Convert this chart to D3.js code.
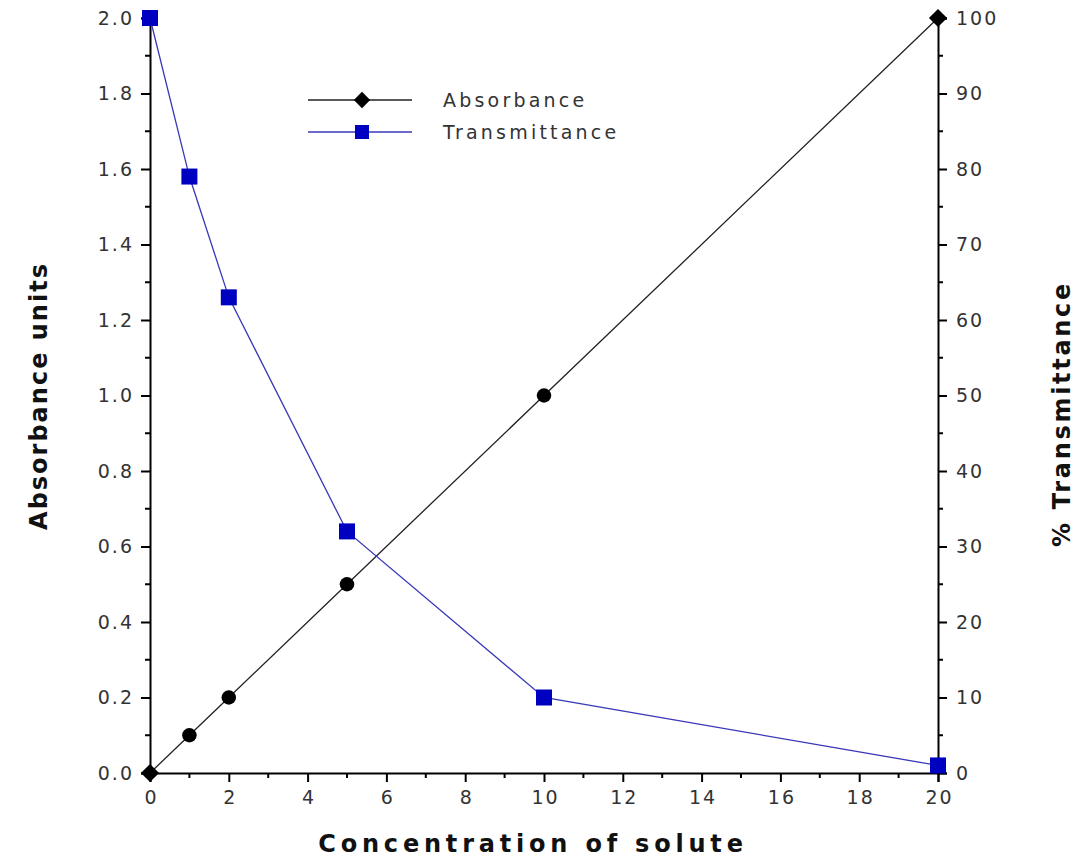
<!DOCTYPE html>
<html><head><meta charset="utf-8">
<script src="https://cdn.jsdelivr.net/npm/d3@7"></script>
<style>body{margin:0;background:#fff}</style>
</head><body>
<svg id="c" width="1083" height="859"></svg>
<script>
const concentration = [0, 1, 2, 5, 10, 20];
const absorbance = [0, 0.1, 0.2, 0.5, 1.0, 2.0];
const transmittance = [100, 79, 63, 32, 10, 1];
const xTicks = [0,2,4,6,8,10,12,14,16,18,20];
const yLeftTicks = [0,0.2,0.4,0.6,0.8,1.0,1.2,1.4,1.6,1.8,2.0];
const yRightTicks = [0,10,20,30,40,50,60,70,80,90,100];
const seriesNames = ["Absorbance", "Transmittance"];

const svg = d3.select("#c");
const x = d3.scaleLinear().domain([0,20]).range([150,938]);
const yL = d3.scaleLinear().domain([0,2]).range([773,18]);
const yR = d3.scaleLinear().domain([0,100]).range([773,18]);
const font = "'DejaVu Sans', Verdana, sans-serif";
const tickCol = "#333";

// minor ticks
const g = svg.append("g").attr("stroke","#000").attr("stroke-width",2);
d3.range(1,20,2).forEach(v=>g.append("line").attr("x1",x(v)).attr("x2",x(v)).attr("y1",773).attr("y2",778));
d3.range(0.1,2,0.2).forEach(v=>g.append("line").attr("x1",150).attr("x2",145).attr("y1",yL(v)).attr("y2",yL(v)));
d3.range(5,100,10).forEach(v=>g.append("line").attr("x1",938).attr("x2",943).attr("y1",yR(v)).attr("y2",yR(v)));

// axes
const ax = svg.append("g").attr("transform","translate(0,773)")
  .call(d3.axisBottom(x).tickValues(xTicks).tickFormat(d3.format("d")).tickSize(9).tickPadding(5));
const ayl = svg.append("g").attr("transform","translate(150,0)")
  .call(d3.axisLeft(yL).tickValues(yLeftTicks).tickFormat(d3.format(".1f")).tickSize(9).tickPadding(7));
const ayr = svg.append("g").attr("transform","translate(938,0)")
  .call(d3.axisRight(yR).tickValues(yRightTicks).tickFormat(d3.format("d")).tickSize(9).tickPadding(9));
[ax,ayl,ayr].forEach(a=>{
  a.select(".domain").attr("stroke","#000").attr("stroke-width",2);
  a.selectAll(".tick line").attr("stroke","#000").attr("stroke-width",2);
  a.selectAll(".tick text").attr("font-family",font).attr("font-size",19).attr("letter-spacing",2).attr("fill",tickCol);
});
ax.selectAll(".tick text").attr("dy","0.9em").attr("dx",1);

// lines
const lineA = d3.line().x((d,i)=>x(concentration[i])).y(d=>yL(d));
const lineT = d3.line().x((d,i)=>x(concentration[i])).y(d=>yR(d));
svg.append("path").datum(absorbance).attr("d",lineA).attr("fill","none").attr("stroke","#222").attr("stroke-width",1.3);
svg.append("path").datum(transmittance).attr("d",lineT).attr("fill","none").attr("stroke","#3838b8").attr("stroke-width",1.3);

// markers
absorbance.forEach((v,i)=>{
  const end = i===0 || i===absorbance.length-1;
  svg.append("path").attr("transform",`translate(${x(concentration[i])},${yL(v)})`)
    .attr("d",d3.symbol().type(end?d3.symbolDiamond2:d3.symbolCircle).size(end?210:165)())
    .attr("fill","#000");
});
transmittance.forEach((v,i)=>{
  svg.append("rect").attr("x",x(concentration[i])-8).attr("y",yR(v)-8).attr("width",16).attr("height",16).attr("fill","#0000c0");
});

// legend
const leg = [{y:100,col:"#222",mcol:"#000",sq:false},{y:132,col:"#3838b8",mcol:"#0000c0",sq:true}];
leg.forEach((l,i)=>{
  svg.append("line").attr("x1",308).attr("x2",412).attr("y1",l.y).attr("y2",l.y).attr("stroke",l.col).attr("stroke-width",1.5);
  if(l.sq) svg.append("rect").attr("x",355).attr("y",l.y-7).attr("width",14).attr("height",14).attr("fill",l.mcol);
  else svg.append("path").attr("transform",`translate(362,${l.y})`).attr("d",d3.symbol().type(d3.symbolDiamond2).size(170)()).attr("fill",l.mcol);
  svg.append("text").attr("x",443).attr("y",l.y+7).text(seriesNames[i])
    .attr("font-family",font).attr("font-size",19).attr("letter-spacing",3.2).attr("fill",tickCol);
});

// titles
svg.append("text").attr("x",533).attr("y",852).attr("text-anchor","middle").text("Concentration of solute")
  .attr("font-family",font).attr("font-weight","bold").attr("font-size",24).attr("letter-spacing",4.8).attr("fill","#111");
svg.append("text").attr("transform","translate(47,396) rotate(-90)").attr("text-anchor","middle").text("Absorbance units")
  .attr("font-family",font).attr("font-weight","bold").attr("font-size",24).attr("letter-spacing",2).attr("fill","#111");
svg.append("text").attr("transform","translate(1070,414) rotate(-90)").attr("text-anchor","middle").text("% Transmittance")
  .attr("font-family",font).attr("font-weight","bold").attr("font-size",24).attr("letter-spacing",2.7).attr("fill","#111");
</script>
</body></html>
